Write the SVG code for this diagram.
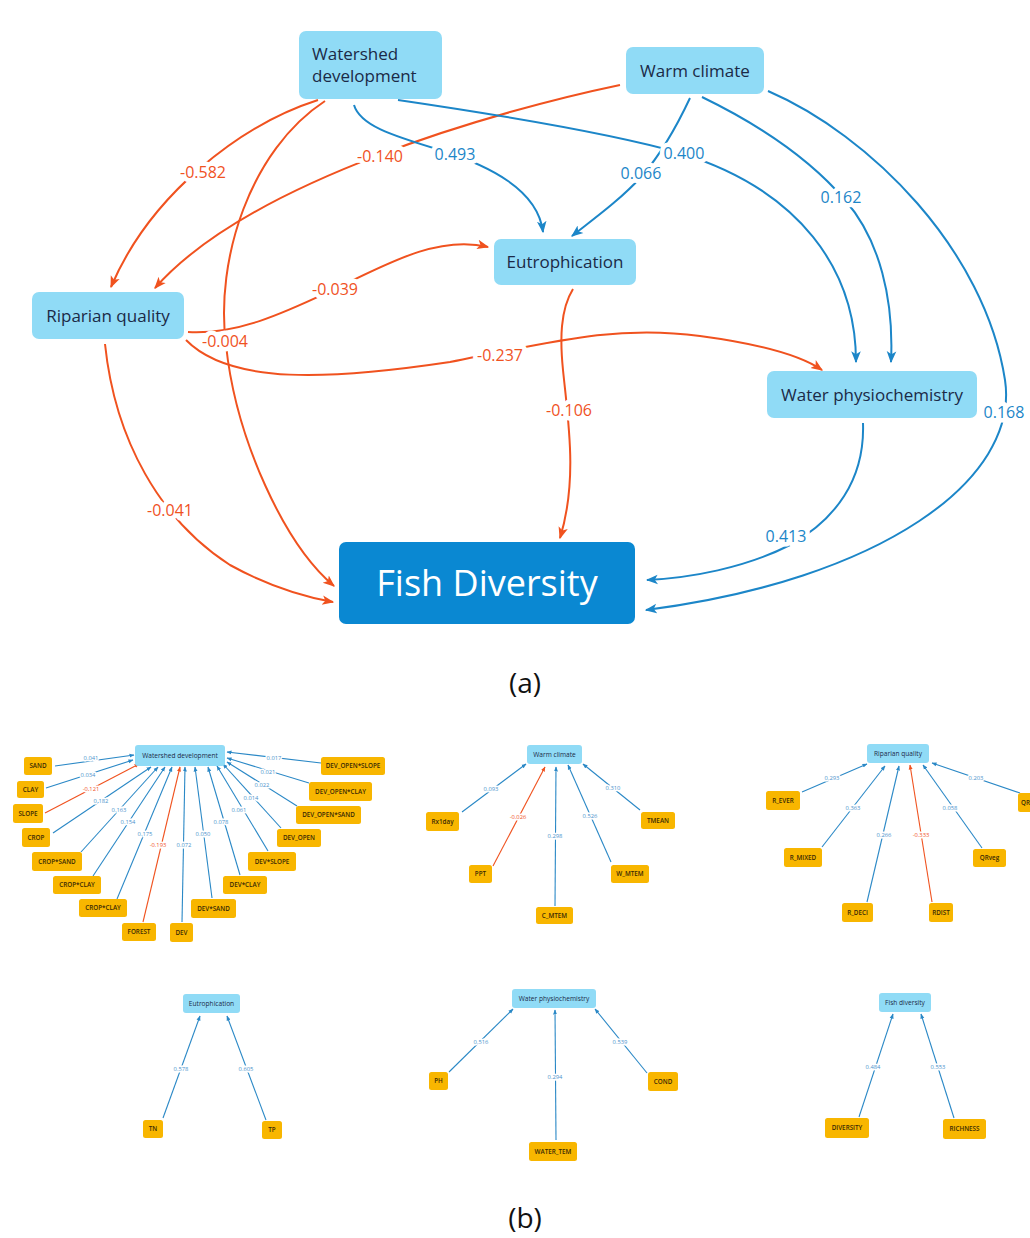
<svg xmlns="http://www.w3.org/2000/svg" width="1030" height="1238" viewBox="0 0 1030 1238">
<style>
.n{fill:#90dbf6}
.fd{fill:#0a88d2}
.lf{fill:#f8b600}
.t{font-family:"Open Sans","Liberation Sans",sans-serif;fill:#1b2a47;font-size:17px}
.tc{font-family:"Open Sans","Liberation Sans",sans-serif;fill:#1b2a47;font-size:17px;text-anchor:middle}
.ft{font-family:"Open Sans","Liberation Sans",sans-serif;fill:#ffffff;font-size:36px;text-anchor:middle}
.eo{fill:none;stroke:#f0521f;stroke-width:2}
.eb{fill:none;stroke:#1c86c8;stroke-width:2}
.lo{font-family:"Open Sans","Liberation Sans",sans-serif;font-size:16px;fill:#f0521f;text-anchor:middle;stroke:#fff;stroke-width:9;stroke-linejoin:round;paint-order:stroke}
.lb{font-family:"Open Sans","Liberation Sans",sans-serif;font-size:16px;fill:#1c86c8;text-anchor:middle;stroke:#fff;stroke-width:9;stroke-linejoin:round;paint-order:stroke}
.cap{font-family:"Open Sans","Liberation Sans",sans-serif;font-size:28px;fill:#111;text-anchor:middle}
.hs{font-family:"Open Sans","Liberation Sans",sans-serif;font-size:6.6px;fill:#1b2a47;text-anchor:middle}
.ls{font-family:"Open Sans","Liberation Sans",sans-serif;font-size:6.3px;font-weight:600;fill:#3a2a05;text-anchor:middle}
.sb{fill:none;stroke:#2a88c6;stroke-width:1.1}
.so{fill:none;stroke:#f0521f;stroke-width:1.1}
.qb{font-family:"Open Sans","Liberation Sans",sans-serif;font-size:5.8px;fill:#4a92cc;text-anchor:middle;stroke:#fff;stroke-width:3;stroke-linejoin:round;paint-order:stroke}
.qo{font-family:"Open Sans","Liberation Sans",sans-serif;font-size:5.8px;fill:#f0521f;text-anchor:middle;stroke:#fff;stroke-width:3;stroke-linejoin:round;paint-order:stroke}
</style>
<defs>
<marker id="ao" viewBox="0 0 10 10" refX="9" refY="5" markerWidth="12" markerHeight="12" markerUnits="userSpaceOnUse" orient="auto"><path d="M0,1 L10,5 L0,9 L2.5,5 z" fill="#f0521f"/></marker>
<marker id="ab" viewBox="0 0 10 10" refX="9" refY="5" markerWidth="12" markerHeight="12" markerUnits="userSpaceOnUse" orient="auto"><path d="M0,1 L10,5 L0,9 L2.5,5 z" fill="#1c86c8"/></marker>
<marker id="so" viewBox="0 0 10 10" refX="9" refY="5" markerWidth="5" markerHeight="5" markerUnits="userSpaceOnUse" orient="auto"><path d="M0,1 L10,5 L0,9 z" fill="#f0521f"/></marker>
<marker id="sb" viewBox="0 0 10 10" refX="9" refY="5" markerWidth="5" markerHeight="5" markerUnits="userSpaceOnUse" orient="auto"><path d="M0,1 L10,5 L0,9 z" fill="#2a88c6"/></marker>
</defs>
<rect x="0" y="0" width="1030" height="1238" fill="#ffffff"/>

<g id="connectors">
<path class="eo" marker-end="url(#ao)" d="M318 100 C240 125,150 195,111 287"/>
<path class="eo" marker-end="url(#ao)" d="M620 85 C500 110,250 180,155 288"/>
<path class="eo" marker-end="url(#ao)" d="M325 101 C250 150,215 260,226 345 C236 440,285 545,334 586"/>
<path class="eo" marker-end="url(#ao)" d="M188 332 C240 335,290 310,335 289 C390 262,440 235,488 247"/>
<path class="eo" marker-end="url(#ao)" d="M186 340 C230 385,330 380,450 362 C560 340,620 325,700 336 C760 344,800 355,822 370"/>
<path class="eo" marker-end="url(#ao)" d="M105 344 C115 440,160 520,230 565 C270 587,305 597,333 602"/>
<path class="eo" marker-end="url(#ao)" d="M573 289 C560 310,560 340,563 370 C568 420,578 480,560 538"/>
<path class="eb" marker-end="url(#ab)" d="M354 105 C360 125,390 135,440 150 C490 166,538 190,543 232"/>
<path class="eb" marker-end="url(#ab)" d="M398 100 C500 115,610 133,680 153 C800 190,856 270,856 362"/>
<path class="eb" marker-end="url(#ab)" d="M690 98 C675 130,660 155,642 176 C620 200,595 218,572 236"/>
<path class="eb" marker-end="url(#ab)" d="M702 97 C770 130,815 165,845 200 C880 240,894 300,891 362"/>
<path class="eb" marker-end="url(#ab)" d="M768 91 C870 135,985 250,1005 380 C1020 480,880 580,646 610"/>
<path class="eb" marker-end="url(#ab)" d="M863 423 C865 480,835 520,790 545 C745 568,690 578,647 580"/>

<text class="lo" x="203" y="178">-0.582</text>
<text class="lo" x="380" y="162">-0.140</text>
<text class="lb" x="455" y="160">0.493</text>
<text class="lb" x="684" y="159">0.400</text>
<text class="lb" x="641" y="179">0.066</text>
<text class="lb" x="841" y="203">0.162</text>
<text class="lo" x="335" y="295">-0.039</text>
<text class="lo" x="225" y="347">-0.004</text>
<text class="lo" x="500" y="361">-0.237</text>
<text class="lo" x="569" y="416">-0.106</text>
<text class="lb" x="1004" y="418">0.168</text>
<text class="lo" x="170" y="516">-0.041</text>
<text class="lb" x="786" y="542">0.413</text>

<g>
<line class="sb" marker-end="url(#sb)" x1="55" y1="766" x2="134" y2="755"/>
<line class="sb" marker-end="url(#sb)" x1="46" y1="788" x2="133" y2="760"/>
<line class="so" marker-end="url(#so)" x1="45" y1="813" x2="139" y2="764"/>
<line class="sb" marker-end="url(#sb)" x1="53" y1="833" x2="151" y2="767"/>
<line class="sb" marker-end="url(#sb)" x1="81" y1="852" x2="158" y2="767"/>
<line class="sb" marker-end="url(#sb)" x1="93" y1="876" x2="165" y2="767"/>
<line class="sb" marker-end="url(#sb)" x1="117" y1="899" x2="172" y2="767"/>
<line class="so" marker-end="url(#so)" x1="143" y1="922" x2="180" y2="767"/>
<line class="sb" marker-end="url(#sb)" x1="182" y1="922" x2="185" y2="767"/>
<line class="sb" marker-end="url(#sb)" x1="212" y1="898" x2="195" y2="767"/>
<line class="sb" marker-end="url(#sb)" x1="240" y1="875" x2="208" y2="767"/>
<line class="sb" marker-end="url(#sb)" x1="268" y1="851" x2="217" y2="766"/>
<line class="sb" marker-end="url(#sb)" x1="281" y1="828" x2="223" y2="764"/>
<line class="sb" marker-end="url(#sb)" x1="297" y1="806" x2="227" y2="762"/>
<line class="sb" marker-end="url(#sb)" x1="309" y1="783" x2="227" y2="758"/>
<line class="sb" marker-end="url(#sb)" x1="321" y1="763" x2="227" y2="752"/>
<text class="qb" x="91" y="760">0.041</text>
<text class="qb" x="88" y="777">0.034</text>
<text class="qo" x="91" y="791">-0.121</text>
<text class="qb" x="101" y="803">0.182</text>
<text class="qb" x="119" y="812">0.163</text>
<text class="qb" x="128" y="824">0.154</text>
<text class="qb" x="145" y="836">0.175</text>
<text class="qo" x="158" y="847">-0.193</text>
<text class="qb" x="184" y="847">0.072</text>
<text class="qb" x="203" y="836">0.050</text>
<text class="qb" x="221" y="824">0.078</text>
<text class="qb" x="239" y="812">0.061</text>
<text class="qb" x="251" y="800">0.014</text>
<text class="qb" x="262" y="787">0.022</text>
<text class="qb" x="268" y="774">0.021</text>
<text class="qb" x="274" y="760">0.017</text>

<line class="sb" marker-end="url(#sb)" x1="462" y1="812" x2="526" y2="764"/>
<line class="so" marker-end="url(#so)" x1="493" y1="866" x2="545" y2="767"/>
<line class="sb" marker-end="url(#sb)" x1="555" y1="906" x2="556" y2="767"/>
<line class="sb" marker-end="url(#sb)" x1="611" y1="862" x2="568" y2="765"/>
<line class="sb" marker-end="url(#sb)" x1="640" y1="810" x2="583" y2="764"/>
<text class="qb" x="491" y="791">0.093</text>
<text class="qo" x="518" y="819">-0.026</text>
<text class="qb" x="555" y="838">0.298</text>
<text class="qb" x="590" y="818">0.526</text>
<text class="qb" x="613" y="790">0.310</text>

<line class="sb" marker-end="url(#sb)" x1="802" y1="792" x2="867" y2="764"/>
<line class="sb" marker-end="url(#sb)" x1="822" y1="847" x2="885" y2="766"/>
<line class="sb" marker-end="url(#sb)" x1="867" y1="902" x2="899" y2="766"/>
<line class="so" marker-end="url(#so)" x1="932" y1="902" x2="910" y2="765"/>
<line class="sb" marker-end="url(#sb)" x1="982" y1="848" x2="923" y2="765"/>
<line class="sb" marker-end="url(#sb)" x1="1020" y1="793" x2="932" y2="763"/>
<text class="qb" x="832" y="780">0.293</text>
<text class="qb" x="853" y="810">0.363</text>
<text class="qb" x="884" y="837">0.266</text>
<text class="qo" x="921" y="837">-0.333</text>
<text class="qb" x="950" y="810">0.058</text>
<text class="qb" x="976" y="780">0.203</text>

<line class="sb" marker-end="url(#sb)" x1="163" y1="1118" x2="200" y2="1016"/>
<line class="sb" marker-end="url(#sb)" x1="266" y1="1120" x2="227" y2="1016"/>
<text class="qb" x="181" y="1071">0.578</text>
<text class="qb" x="246" y="1071">0.605</text>

<line class="sb" marker-end="url(#sb)" x1="449" y1="1072" x2="513" y2="1009"/>
<line class="sb" marker-end="url(#sb)" x1="556" y1="1140" x2="555" y2="1010"/>
<line class="sb" marker-end="url(#sb)" x1="647" y1="1073" x2="595" y2="1009"/>
<text class="qb" x="481" y="1044">0.516</text>
<text class="qb" x="555" y="1079">0.294</text>
<text class="qb" x="620" y="1044">0.539</text>

<line class="sb" marker-end="url(#sb)" x1="859" y1="1117" x2="893" y2="1014"/>
<line class="sb" marker-end="url(#sb)" x1="954" y1="1118" x2="921" y2="1014"/>
<text class="qb" x="873" y="1069">0.484</text>
<text class="qb" x="938" y="1069">0.553</text>
</g>
</g>

<g id="node-watershed"><rect class="n" x="299" y="31" width="143" height="68" rx="7"/><text class="t" x="312" y="60">Watershed</text><text class="t" x="312" y="82">development</text></g>
<g id="node-warm"><rect class="n" x="626" y="47" width="138" height="47" rx="7"/><text class="tc" x="695" y="77">Warm climate</text></g>
<g id="node-eutro"><rect class="n" x="494" y="239" width="142" height="46" rx="7"/><text class="tc" x="565" y="268">Eutrophication</text></g>
<g id="node-riparian"><rect class="n" x="32" y="292" width="152" height="47" rx="7"/><text class="tc" x="108" y="322">Riparian quality</text></g>
<g id="node-waterphys"><rect class="n" x="767" y="371" width="210" height="47" rx="7"/><text class="tc" x="872" y="401">Water physiochemistry</text></g>
<g id="node-fish"><rect class="fd" x="339" y="542" width="296" height="82" rx="7"/><text class="ft" x="487" y="596">Fish Diversity</text></g>
<text class="cap" x="525" y="693">(a)</text>

<g id="b-watershed"><rect class="n" x="135" y="745" width="90" height="21" rx="3"/><text class="hs" x="180" y="758">Watershed development</text></g>
<g id="b-sand"><rect class="lf" x="24" y="757" width="28" height="18" rx="2.5"/><text class="ls" x="38" y="768">SAND</text></g>
<g id="b-clay"><rect class="lf" x="17" y="781" width="27" height="17" rx="2.5"/><text class="ls" x="30.5" y="791.5">CLAY</text></g>
<g id="b-slope"><rect class="lf" x="13" y="804" width="30" height="19" rx="2.5"/><text class="ls" x="28" y="815.5">SLOPE</text></g>
<g id="b-crop"><rect class="lf" x="22" y="828" width="28" height="19" rx="2.5"/><text class="ls" x="36" y="839.5">CROP</text></g>
<g id="b-cropsand"><rect class="lf" x="32" y="852" width="50" height="19" rx="2.5"/><text class="ls" x="57" y="863.5">CROP*SAND</text></g>
<g id="b-cropclay1"><rect class="lf" x="53" y="876" width="48" height="18" rx="2.5"/><text class="ls" x="77" y="887">CROP*CLAY</text></g>
<g id="b-cropclay2"><rect class="lf" x="79" y="899" width="48" height="18" rx="2.5"/><text class="ls" x="103" y="910">CROP*CLAY</text></g>
<g id="b-forest"><rect class="lf" x="122" y="923" width="34" height="18" rx="2.5"/><text class="ls" x="139" y="934">FOREST</text></g>
<g id="b-dev"><rect class="lf" x="170" y="923" width="23" height="19" rx="2.5"/><text class="ls" x="181.5" y="934.5">DEV</text></g>
<g id="b-devsand"><rect class="lf" x="191" y="899" width="45" height="19" rx="2.5"/><text class="ls" x="213.5" y="910.5">DEV*SAND</text></g>
<g id="b-devclay"><rect class="lf" x="223" y="876" width="44" height="18" rx="2.5"/><text class="ls" x="245" y="887">DEV*CLAY</text></g>
<g id="b-devslope"><rect class="lf" x="248" y="852" width="48" height="19" rx="2.5"/><text class="ls" x="272" y="863.5">DEV*SLOPE</text></g>
<g id="b-devopen"><rect class="lf" x="277" y="829" width="44" height="18" rx="2.5"/><text class="ls" x="299" y="840">DEV_OPEN</text></g>
<g id="b-devopensand"><rect class="lf" x="296" y="806" width="65" height="18" rx="2.5"/><text class="ls" x="328.5" y="817">DEV_OPEN*SAND</text></g>
<g id="b-devopenclay"><rect class="lf" x="309" y="782" width="63" height="19" rx="2.5"/><text class="ls" x="340.5" y="793.5">DEV_OPEN*CLAY</text></g>
<g id="b-devopenslope"><rect class="lf" x="321" y="757" width="64" height="18" rx="2.5"/><text class="ls" x="353" y="768">DEV_OPEN*SLOPE</text></g>

<g id="b-warm"><rect class="n" x="527" y="745" width="55" height="19" rx="3"/><text class="hs" x="554.5" y="757">Warm climate</text></g>
<g id="b-rx1day"><rect class="lf" x="426" y="812" width="33" height="19" rx="2.5"/><text class="ls" x="442.5" y="823.5">Rx1day</text></g>
<g id="b-ppt"><rect class="lf" x="469" y="865" width="23" height="18" rx="2.5"/><text class="ls" x="480.5" y="876">PPT</text></g>
<g id="b-cmtem"><rect class="lf" x="536" y="907" width="37" height="17" rx="2.5"/><text class="ls" x="554.5" y="917.5">C_MTEM</text></g>
<g id="b-wmtem"><rect class="lf" x="611" y="865" width="38" height="18" rx="2.5"/><text class="ls" x="630" y="876">W_MTEM</text></g>
<g id="b-tmean"><rect class="lf" x="641" y="812" width="34" height="17" rx="2.5"/><text class="ls" x="658" y="822.5">TMEAN</text></g>

<g id="b-riparian"><rect class="n" x="867" y="744" width="62" height="19" rx="3"/><text class="hs" x="898" y="756">Riparian quality</text></g>
<g id="b-rever"><rect class="lf" x="766" y="791" width="34" height="19" rx="2.5"/><text class="ls" x="783" y="802.5">R_EVER</text></g>
<g id="b-rmixed"><rect class="lf" x="784" y="848" width="38" height="19" rx="2.5"/><text class="ls" x="803" y="859.5">R_MIXED</text></g>
<g id="b-rdeci"><rect class="lf" x="842" y="903" width="31" height="19" rx="2.5"/><text class="ls" x="857.5" y="914.5">R_DECI</text></g>
<g id="b-rdist"><rect class="lf" x="929" y="903" width="24" height="19" rx="2.5"/><text class="ls" x="941" y="914.5">RDIST</text></g>
<g id="b-qrveg"><rect class="lf" x="973" y="849" width="33" height="18" rx="2.5"/><text class="ls" x="989.5" y="860">QRveg</text></g>
<g id="b-qr"><rect class="lf" x="1018" y="793" width="20" height="19" rx="2.5"/><text class="ls" x="1021" y="804.5" style="text-anchor:start">QR</text></g>

<g id="b-eutro"><rect class="n" x="183" y="994" width="57" height="19" rx="3"/><text class="hs" x="211.5" y="1006">Eutrophication</text></g>
<g id="b-tn"><rect class="lf" x="143" y="1120" width="20" height="18" rx="2.5"/><text class="ls" x="153" y="1131">TN</text></g>
<g id="b-tp"><rect class="lf" x="262" y="1121" width="20" height="18" rx="2.5"/><text class="ls" x="272" y="1132">TP</text></g>

<g id="b-waterphys"><rect class="n" x="512" y="989" width="84" height="19" rx="3"/><text class="hs" x="554" y="1001">Water physiochemistry</text></g>
<g id="b-ph"><rect class="lf" x="429" y="1072" width="19" height="18" rx="2.5"/><text class="ls" x="438.5" y="1083">PH</text></g>
<g id="b-cond"><rect class="lf" x="648" y="1072" width="30" height="19" rx="2.5"/><text class="ls" x="663" y="1083.5">COND</text></g>
<g id="b-watertem"><rect class="lf" x="529" y="1142" width="48" height="19" rx="2.5"/><text class="ls" x="553" y="1153.5">WATER_TEM</text></g>

<g id="b-fish"><rect class="n" x="879" y="993" width="52" height="19" rx="3"/><text class="hs" x="905" y="1005">Fish diversity</text></g>
<g id="b-diversity"><rect class="lf" x="825" y="1118" width="44" height="20" rx="2.5"/><text class="ls" x="847" y="1130">DIVERSITY</text></g>
<g id="b-richness"><rect class="lf" x="943" y="1119" width="43" height="20" rx="2.5"/><text class="ls" x="964.5" y="1131">RICHNESS</text></g>

<text class="cap" x="525" y="1228">(b)</text>
</svg>
